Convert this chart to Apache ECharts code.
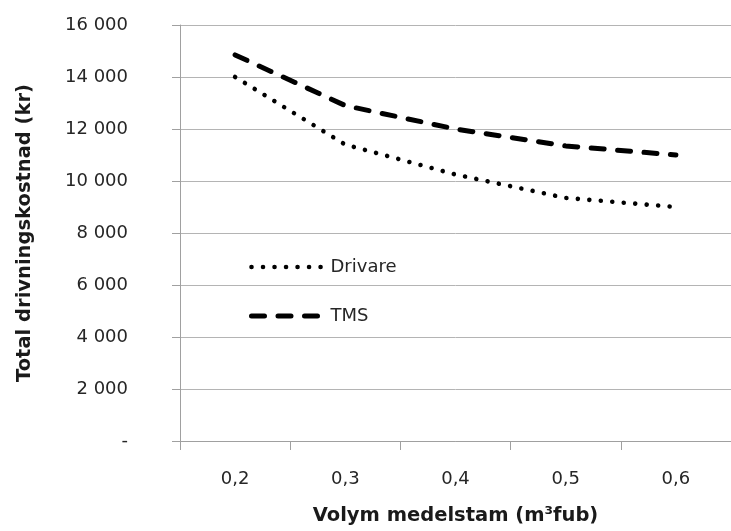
<!DOCTYPE html>
<html>
<head>
<meta charset="utf-8">
<script src="https://cdn.jsdelivr.net/npm/echarts@6/dist/echarts.min.js"></script>
<style>
  html, body { margin: 0; padding: 0; background: #ffffff; }
  #chart { width: 731px; height: 531px; }
</style>
</head>
<body>
<div id="chart"></div>
<script>
// Volym medelstam (m³fub)
const categories = ['0,2', '0,3', '0,4', '0,5', '0,6'];
// Total drivningskostnad (kr)
const drivare = [14000, 11400, 10250, 9350, 9000];
const tms = [14850, 12900, 12000, 11350, 11000];

const yMin = 0;
const yMax = 16000;
const yStep = 2000;

const FONT = '"DejaVu Sans", "Noto Sans", sans-serif';

// Line looks shared by the series and their legend entries
const dotted = { color: '#000000', width: 4.6, type: [0.01, 11.5], cap: 'round', join: 'round' };
const dashed = { color: '#000000', width: 5, type: [13, 13.5], cap: 'round', join: 'round' };

function formatKr(v) {
  if (v === 0) return '-';
  const th = Math.floor(v / 1000);
  const rest = String(v % 1000).padStart(3, '0');
  return th > 0 ? th + ' ' + rest : String(v);
}

const chart = echarts.init(document.getElementById('chart'), null, { renderer: 'canvas' });

chart.setOption({
  backgroundColor: '#ffffff',
  animation: false,
  textStyle: { fontFamily: FONT },
  grid: { left: 180, top: 25, width: 553, height: 417, containLabel: false },
  legend: {
    orient: 'vertical',
    left: 244,
    top: 253,
    itemGap: 31,
    itemWidth: 74,
    itemHeight: 20,
    textStyle: { fontFamily: FONT, fontSize: 18, color: '#262626' },
    data: [
      { name: 'Drivare', itemStyle: { opacity: 0 }, lineStyle: dotted },
      { name: 'TMS', itemStyle: { opacity: 0 }, lineStyle: dashed }
    ]
  },
  xAxis: {
    type: 'category',
    data: categories,
    boundaryGap: true,
    name: 'Volym medelstam (m³fub)',
    nameLocation: 'middle',
    nameGap: 65,
    nameTextStyle: { fontFamily: FONT, fontSize: 19.5, fontWeight: 'bold', color: '#1a1a1a' },
    axisLine: { lineStyle: { color: '#a0a0a0', width: 1 } },
    axisTick: { show: true, length: 9, alignWithLabel: false, lineStyle: { color: '#a0a0a0' } },
    axisLabel: { margin: 29, fontFamily: FONT, fontSize: 18, color: '#262626' },
    splitLine: { show: false }
  },
  yAxis: {
    type: 'value',
    min: yMin,
    max: yMax,
    interval: yStep,
    name: 'Total drivningskostnad (kr)',
    nameLocation: 'middle',
    nameGap: 145,
    nameTextStyle: { fontFamily: FONT, fontSize: 19.5, fontWeight: 'bold', color: '#1a1a1a' },
    axisLine: { show: true, lineStyle: { color: '#a0a0a0', width: 1 } },
    axisTick: { show: true, length: 8, lineStyle: { color: '#a0a0a0' } },
    axisLabel: { margin: 52, fontFamily: FONT, fontSize: 18, color: '#262626', formatter: formatKr },
    splitLine: { show: true, lineStyle: { color: '#b4b4b4', width: 1 } }
  },
  series: [
    {
      name: 'Drivare',
      type: 'line',
      data: drivare,
      symbol: 'none',
      smooth: false,
      lineStyle: dotted,
      itemStyle: { color: '#000000' }
    },
    {
      name: 'TMS',
      type: 'line',
      data: tms,
      symbol: 'none',
      smooth: false,
      lineStyle: dashed,
      itemStyle: { color: '#000000' }
    }
  ]
});
</script>
</body>
</html>
